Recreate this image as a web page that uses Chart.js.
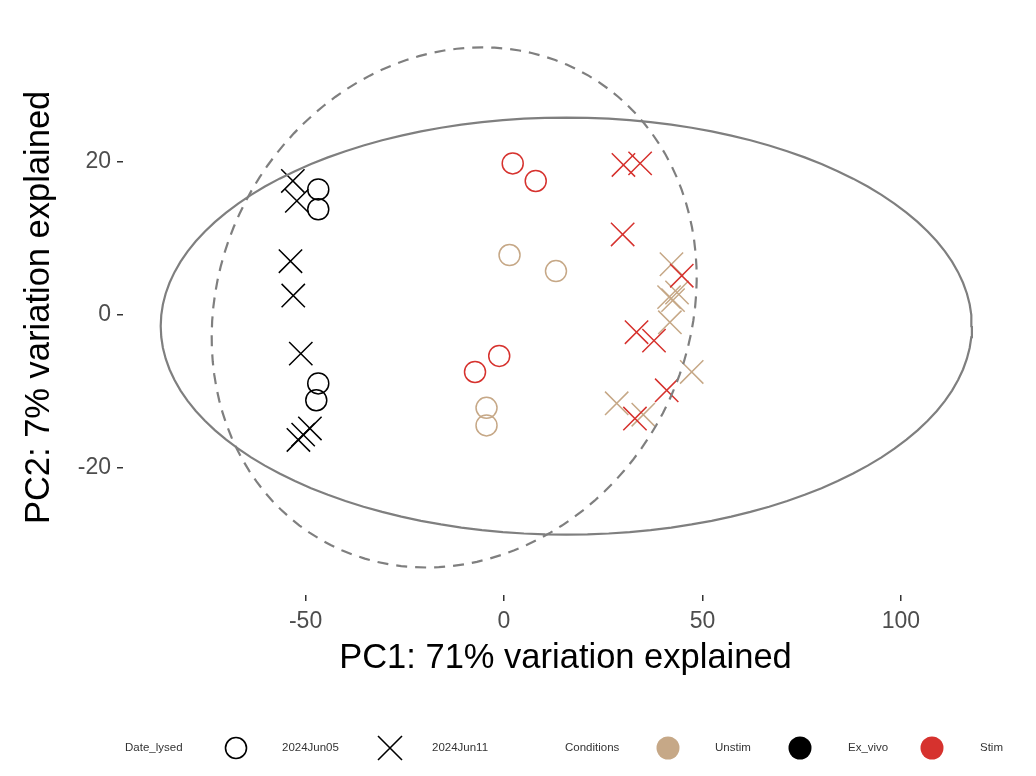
<!DOCTYPE html>
<html>
<head>
<meta charset="utf-8">
<script src="https://cdn.jsdelivr.net/npm/chart.js@4.4.1/dist/chart.umd.min.js"></script>
<style>
html, body { margin: 0; padding: 0; background: #fff; }
</style>
</head>
<body>
<canvas id="pca" width="1036" height="776"></canvas>
<script>
// legend groups
const dates = ['2024Jun05', '2024Jun11'];
const conditions = ['Unstim', 'Ex_vivo', 'Stim'];
const conditionColors = ['#C6A887', '#000000', '#D6322E'];

// axis ticks and ranges
const xTicks = [-50, 0, 50, 100];
const yTicks = [-20, 0, 20];
const xRange = [-96, 127];
const yRange = [-36.7, 38.6];

// PC1 / PC2 scores, one array per condition + date
const exvivoJun05 = [{x: -46.8, y: 16.4}, {x: -46.8, y: 13.8}, {x: -46.8, y: -9.0}, {x: -47.3, y: -11.2}];
const exvivoJun11 = [{x: -53.2, y: 17.5}, {x: -52.2, y: 14.9}, {x: -53.8, y: 7.0}, {x: -53.1, y: 2.5},
                     {x: -51.2, y: -5.1}, {x: -50.6, y: -15.7}, {x: -48.9, y: -14.9}, {x: -51.8, y: -16.4}];
const unstimJun05 = [{x: 1.4, y: 7.8}, {x: 13.1, y: 5.7}, {x: -4.4, y: -12.2}, {x: -4.4, y: -14.5}];
const unstimJun11 = [{x: 42.2, y: 6.6}, {x: 41.6, y: 2.3}, {x: 43.6, y: 2.9}, {x: 42.6, y: 1.9},
                     {x: 41.8, y: -1.0}, {x: 47.3, y: -7.5}, {x: 28.4, y: -11.6}, {x: 35.1, y: -13.1}];
const stimJun05 = [{x: 2.2, y: 19.8}, {x: 8.0, y: 17.5}, {x: -1.2, y: -5.4}, {x: -7.3, y: -7.5}];
const stimJun11 = [{x: 30.1, y: 19.6}, {x: 34.3, y: 19.8}, {x: 29.9, y: 10.5}, {x: 44.8, y: 5.1},
                   {x: 33.4, y: -2.3}, {x: 37.8, y: -3.4}, {x: 41.0, y: -9.9}, {x: 33.0, y: -13.6}];

// ellipses per date: centre x, centre y, x radius, y radius, x shear at top
const ellipseJun05 = [15.7, -1.5, 102.2, 27.3, 0];
const ellipseJun11 = [-12.55, 0.95, 60.7, 34.05, 7.05];

function ellipsePoints(e) {
    const pts = [];
    for (let i = 0; i <= 120; i++) {
        const t = i / 120 * Math.PI * 2;
        pts.push({x: e[0] + e[2] * Math.cos(t) + e[4] * Math.sin(t), y: e[1] + e[3] * Math.sin(t)});
    }
    return pts;
}

const FONT = "'Liberation Sans', Arial, sans-serif";

function pointSet(label, data, color, style) {
    return {
        label: label,
        data: data,
        pointStyle: style,
        pointRadius: style === 'circle' ? 10.5 : 16.5,
        pointBorderWidth: 1.5,
        borderColor: color,
        backgroundColor: 'rgba(0,0,0,0)',
        order: 2
    };
}

function ellipseSet(label, data, dash) {
    return {
        label: label,
        type: 'line',
        data: data,
        showLine: true,
        pointRadius: 0,
        borderColor: '#7F7F7F',
        borderWidth: 2.2,
        borderDash: dash,
        fill: false,
        tension: 0,
        order: 1
    };
}

// legend drawn under the plot, ggplot style
const bottomLegend = {
    id: 'bottomLegend',
    afterDraw(chart) {
        const ctx = chart.ctx;
        const y = 748;
        ctx.save();
        ctx.font = '11.5px ' + FONT;
        ctx.fillStyle = '#333';
        ctx.textBaseline = 'middle';
        ctx.textAlign = 'left';
        ctx.fillText('Date_lysed', 125, y);
        ctx.fillText(dates[0], 282, y);
        ctx.fillText(dates[1], 432, y);
        ctx.fillText('Conditions', 565, y);
        ctx.fillText(conditions[0], 715, y);
        ctx.fillText(conditions[1], 848, y);
        ctx.fillText(conditions[2], 980, y);

        ctx.strokeStyle = '#000';
        ctx.lineWidth = 1.6;
        ctx.beginPath();
        ctx.arc(236, y, 10.5, 0, Math.PI * 2);
        ctx.stroke();
        ctx.beginPath();
        ctx.moveTo(378, y - 12); ctx.lineTo(402, y + 12);
        ctx.moveTo(378, y + 12); ctx.lineTo(402, y - 12);
        ctx.stroke();

        const dotX = [668, 800, 932];
        dotX.forEach(function(x, i) {
            ctx.fillStyle = conditionColors[i];
            ctx.beginPath();
            ctx.arc(x, y, 11.5, 0, Math.PI * 2);
            ctx.fill();
        });
        ctx.restore();
    }
};

new Chart(document.getElementById('pca'), {
    type: 'scatter',
    data: {
        datasets: [
            ellipseSet('2024Jun05 ellipse', ellipsePoints(ellipseJun05), []),
            ellipseSet('2024Jun11 ellipse', ellipsePoints(ellipseJun11), [11, 8]),
            pointSet('Ex_vivo 2024Jun05', exvivoJun05, conditionColors[1], 'circle'),
            pointSet('Ex_vivo 2024Jun11', exvivoJun11, conditionColors[1], 'crossRot'),
            pointSet('Stim 2024Jun05', stimJun05, conditionColors[2], 'circle'),
            pointSet('Stim 2024Jun11', stimJun11, conditionColors[2], 'crossRot'),
            pointSet('Unstim 2024Jun05', unstimJun05, conditionColors[0], 'circle'),
            pointSet('Unstim 2024Jun11', unstimJun11, conditionColors[0], 'crossRot')
        ]
    },
    options: {
        responsive: false,
        animation: false,
        devicePixelRatio: 1,
        layout: {
            padding: {top: 16, right: 28, bottom: 97, left: 0}
        },
        plugins: {
            legend: {display: false},
            tooltip: {enabled: false}
        },
        scales: {
            x: {
                type: 'linear',
                min: xRange[0],
                max: xRange[1],
                afterBuildTicks: function(scale) {
                    scale.ticks = xTicks.map(v => ({value: v}));
                },
                afterFit: function(scale) { scale.height = 84; },
                grid: {drawOnChartArea: false, drawTicks: true, tickLength: 6, color: '#333', lineWidth: 1.5},
                border: {display: false},
                ticks: {
                    color: '#4D4D4D',
                    padding: 7,
                    maxRotation: 0,
                    font: {size: 23, family: FONT}
                },
                title: {
                    display: true,
                    text: 'PC1: 71% variation explained',
                    color: '#000',
                    padding: 0,
                    font: {size: 34.5, family: FONT}
                }
            },
            y: {
                type: 'linear',
                min: yRange[0],
                max: yRange[1],
                afterBuildTicks: function(scale) {
                    scale.ticks = yTicks.map(v => ({value: v}));
                },
                afterFit: function(scale) { scale.width = 123; },
                grid: {drawOnChartArea: false, drawTicks: true, tickLength: 6, color: '#333', lineWidth: 1.5},
                border: {display: false},
                ticks: {
                    color: '#4D4D4D',
                    padding: 6,
                    font: {size: 23, family: FONT}
                },
                title: {
                    display: true,
                    text: 'PC2: 7% variation explained',
                    color: '#000',
                    padding: {top: 19, bottom: 0},
                    font: {size: 34.5, family: FONT}
                }
            }
        }
    },
    plugins: [bottomLegend]
});
</script>
</body>
</html>
